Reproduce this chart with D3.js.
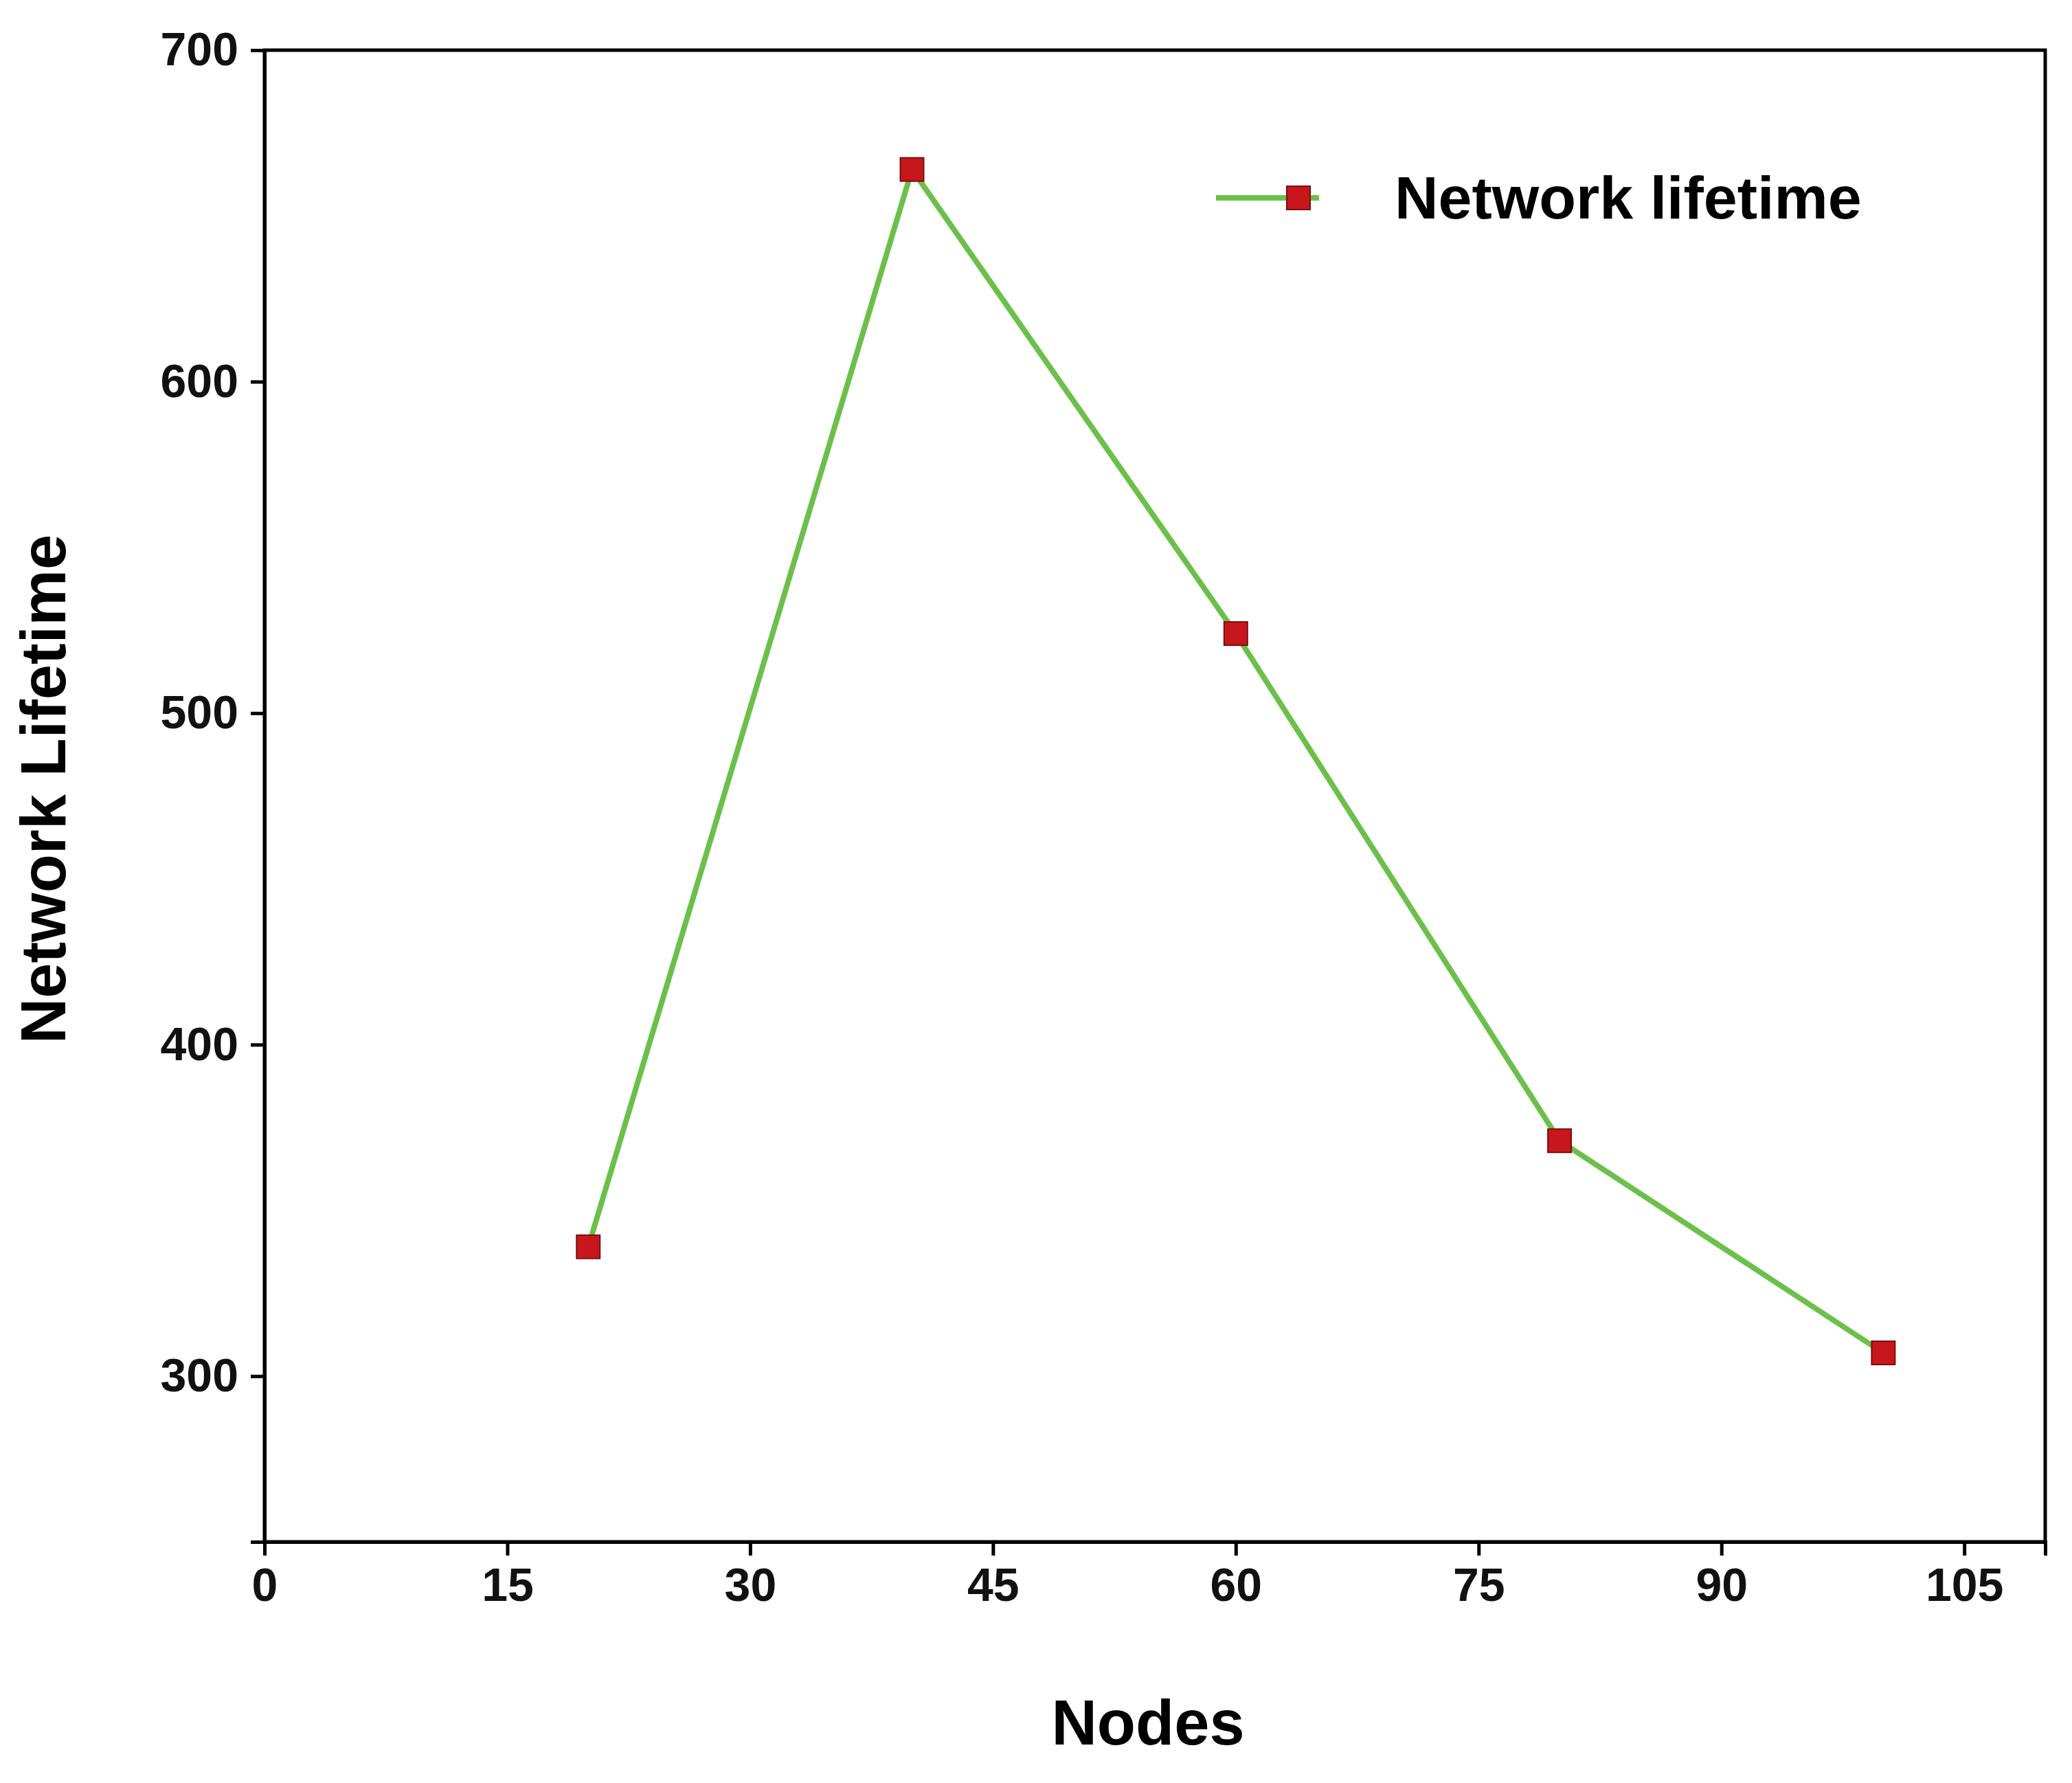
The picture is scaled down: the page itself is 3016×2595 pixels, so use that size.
<!DOCTYPE html>
<html><head><meta charset="utf-8">
<script src="https://cdn.jsdelivr.net/npm/d3@7"></script>
<style>body{margin:0;background:#fff}text{font-family:"Liberation Sans",Arial,sans-serif;font-weight:bold}</style>
</head><body><svg id="chart" width="3016" height="2595"></svg>
<script>
// data
var nodes = [20, 40, 60, 80, 100];
var lifetime = [339, 664, 524, 371, 307];
var xTicks = [0, 15, 30, 45, 60, 75, 90, 105];
var yTicks = [300, 400, 500, 600, 700];

var margin = { top: 73, right: 39, bottom: 351, left: 385 };
var width = 3016 - margin.left - margin.right;
var height = 2595 - margin.top - margin.bottom;

var svg = d3.select("#chart").append("g")
    .attr("transform", "translate(" + margin.left + "," + margin.top + ")");

var x = d3.scaleLinear().domain([0, 110]).range([0, width]);
var y = d3.scaleLinear().domain([250, 700]).range([height, 0]);

// frame
svg.append("rect").attr("width", width).attr("height", height)
    .attr("fill", "none").attr("stroke", "#000").attr("stroke-width", 5);

var xa = svg.append("g").attr("transform", "translate(0," + height + ")")
    .call(d3.axisBottom(x).tickValues(xTicks).tickSize(20).tickPadding(18));
var ya = svg.append("g")
    .call(d3.axisLeft(y).tickValues(yTicks).tickSize(20).tickPadding(18));
[xa, ya].forEach(function (a) {
    a.select(".domain").attr("stroke-width", 5);
    a.selectAll(".tick line").attr("stroke-width", 5);
    a.selectAll("text").style("font-size", "68px").attr("fill", "#111");
});

svg.append("text").attr("x", width / 2 - 10).attr("y", height + 295)
    .attr("text-anchor", "middle").style("font-size", "92px").text("Nodes");
svg.append("text").attr("transform", "translate(-290," + (height / 2 - 10) + ") rotate(-90)")
    .attr("text-anchor", "middle").style("font-size", "92px").text("Network Lifetime");

var line = d3.line().x(function (d, i) { return x(nodes[i]); }).y(function (d) { return y(d); });
svg.append("path").datum(lifetime).attr("d", line)
    .attr("fill", "none").attr("stroke", "#6cc04a").attr("stroke-width", 8);

var s = 34;
svg.selectAll(".pt").data(lifetime).enter().append("rect")
    .attr("x", function (d, i) { return x(nodes[i]) - s / 2; })
    .attr("y", function (d) { return y(d) - s / 2; })
    .attr("width", s).attr("height", s)
    .attr("fill", "#c8161d").attr("stroke", "#7a0e10").attr("stroke-width", 2);

// legend
var lg = svg.append("g").attr("transform", "translate(1385,215)");
lg.append("line").attr("x1", 0).attr("x2", 150).attr("stroke", "#6cc04a").attr("stroke-width", 8);
lg.append("rect").attr("x", 120 - s / 2).attr("y", -s / 2).attr("width", s).attr("height", s)
    .attr("fill", "#c8161d").attr("stroke", "#7a0e10").attr("stroke-width", 2);
lg.append("text").attr("x", 640 - 385 + 5).attr("y", 30).style("font-size", "88px").text("Network lifetime");
</script></body></html>
